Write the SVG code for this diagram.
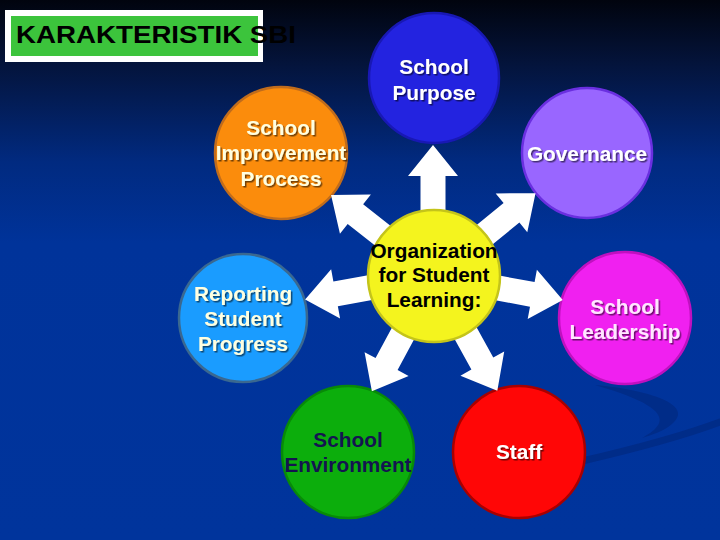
<svg xmlns="http://www.w3.org/2000/svg" width="720" height="540" viewBox="0 0 720 540">
<defs>
<linearGradient id="bg" x1="0" y1="0" x2="0" y2="1">
<stop offset="0" stop-color="#01040e"/>
<stop offset="0.12" stop-color="#04143c"/>
<stop offset="0.3" stop-color="#012a80"/>
<stop offset="0.45" stop-color="#00339a"/>
<stop offset="1" stop-color="#00349c"/>
</linearGradient>
<filter id="sh" x="-10%" y="-10%" width="120%" height="130%">
<feDropShadow dx="1.5" dy="1.5" stdDeviation="0.6" flood-color="#000" flood-opacity="0.55"/>
</filter>
<path id="arr" d="M0,-12.5 L100,-12.5 L100,-25 L131,0 L100,25 L100,12.5 L0,12.5 Z" fill="#ffffff"/>
</defs>
<style>
.t{font-family:"Liberation Sans",Arial,sans-serif;font-weight:bold;font-size:20.8px;text-anchor:middle}
.w{fill:#ffffff;filter:url(#sh)}
.c{fill:#ffffe0;filter:url(#sh)}
.p{fill:#ffe6ff;filter:url(#sh)}
.k{fill:#000000}
.n{fill:#141450}
circle{stroke-width:2.5}
</style>
<rect width="720" height="540" fill="url(#bg)"/>
<g id="swoosh">
<path d="M595,385 C650,390 695,405 672,424 C664,431 652,435 642,438 C668,424 675,408 595,385 Z" fill="#002c88"/>
<path d="M578,462 C630,450 680,437 720,422" fill="none" stroke="#002c88" stroke-width="7" stroke-linecap="round"/>
</g>
<g id="title">
<rect x="5" y="10" width="258" height="52" fill="#ffffff"/>
<rect x="11" y="16" width="247" height="40" fill="#3cc43c"/>
<text x="16" y="43" font-family="'Liberation Sans',Arial,sans-serif" font-weight="bold" font-size="24" fill="#000" textLength="280" lengthAdjust="spacingAndGlyphs">KARAKTERISTIK SBI</text>
</g>
<g id="purpose">
<circle cx="434" cy="78" r="65" fill="#2323e0" stroke="#1818b4"/>
<text class="t w" x="434" y="74">School</text>
<text class="t w" x="434" y="100">Purpose</text>
</g>
<g id="governance">
<circle cx="587" cy="153" r="65" fill="#9966ff" stroke="#6a2fe0"/>
<text class="t w" x="587" y="161">Governance</text>
</g>
<g id="improvement">
<circle cx="281" cy="153" r="66" fill="#fb8c0c" stroke="#c06c1c"/>
<text class="t c" x="281" y="135">School</text>
<text class="t c" x="281" y="160">Improvement</text>
<text class="t c" x="281" y="186">Process</text>
</g>
<g id="reporting">
<circle cx="243" cy="318" r="64" fill="#1a9cff" stroke="#3a6890"/>
<text class="t c" x="243" y="301">Reporting</text>
<text class="t c" x="243" y="326">Student</text>
<text class="t c" x="243" y="351">Progress</text>
</g>
<g id="leadership">
<circle cx="625" cy="318" r="66" fill="#f020f0" stroke="#c010c0"/>
<text class="t p" x="625" y="314">School</text>
<text class="t p" x="625" y="339">Leadership</text>
</g>
<g id="environment">
<circle cx="348" cy="452" r="66" fill="#0cae0c" stroke="#088a08"/>
<text class="t n" x="348" y="447">School</text>
<text class="t n" x="348" y="472">Environment</text>
</g>
<g id="staff">
<circle cx="519" cy="452" r="66" fill="#ff0606" stroke="#a80000"/>
<text class="t w" x="519" y="459">Staff</text>
</g>
<g id="connectors">
<use href="#arr" transform="translate(433,276) rotate(-90)"/>
<use href="#arr" transform="translate(434,276) rotate(-141.8)"/>
<use href="#arr" transform="translate(434,276) rotate(-39.2)"/>
<use href="#arr" transform="translate(434,276) rotate(169.7)"/>
<use href="#arr" transform="translate(434,276) rotate(10.6)"/>
<use href="#arr" transform="translate(434,276) rotate(118.3)"/>
<use href="#arr" transform="translate(434,276) rotate(61.1)"/>
</g>
<g id="organization">
<circle cx="434" cy="276" r="66" fill="#f4f41e" stroke="#c4c41a"/>
<text class="t k" x="434" y="258">Organization</text>
<text class="t k" x="434" y="282">for Student</text>
<text class="t k" x="434" y="307">Learning:</text>
</g>
</svg>
